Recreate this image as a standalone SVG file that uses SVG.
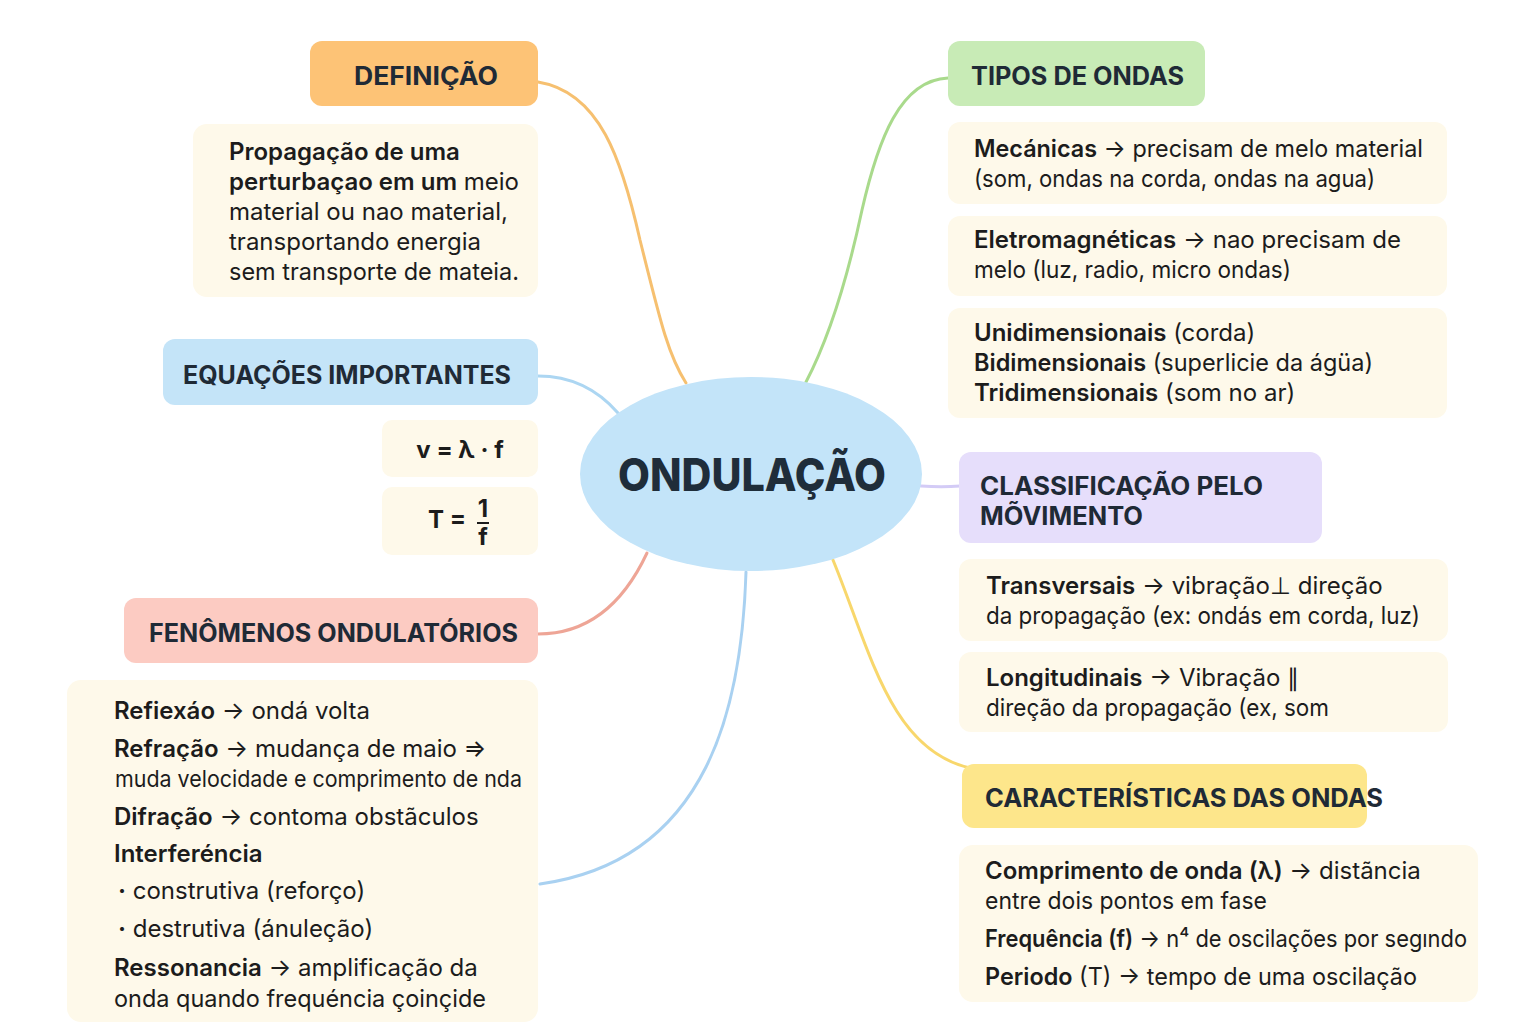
<svg xmlns="http://www.w3.org/2000/svg" width="1536" height="1024" viewBox="0 0 1536 1024">
<style>
.hd{font-family:Inter,"Liberation Sans",sans-serif;font-weight:700;font-size:25px;fill:#1f2a36}
.bd{font-family:Inter,"Liberation Sans",sans-serif;font-size:24px;fill:#1c1c1c}
.sm{font-size:23px}
.b{font-weight:600}
.card{fill:#fef9ea}
.con{fill:none;stroke-width:3;stroke-linecap:round}
</style>
<rect width="1536" height="1024" fill="#ffffff"/>
<g id="connectors">
<path class="con" stroke="#f6c070" d="M538,82 C600,92 622,160 640,240 C660,320 668,355 686,383"/>
<path class="con" stroke="#a9da8c" d="M948,78 C900,80 878,140 862,210 C846,285 828,340 806,382"/>
<path class="con" stroke="#acd6f2" d="M538,376 C572,376 598,390 618,413"/>
<path class="con" stroke="#d3cbf6" d="M921,486 C935,487 948,487 960,486"/>
<path class="con" stroke="#eea596" d="M647,553 C625,600 592,634 538,634"/>
<path class="con" stroke="#a9d1f1" d="M746,572 C742,700 712,860 540,884"/>
<path class="con" stroke="#f8d76c" d="M833,560 C870,650 890,750 970,768"/>
</g>
<g id="center">
<ellipse cx="751" cy="474" rx="171" ry="97" fill="#c3e4f9"/>
<text x="752" y="491" text-anchor="middle" font-family="Inter,'Liberation Sans',sans-serif" font-weight="800" font-size="45" fill="#1f2d3a" textLength="268" lengthAdjust="spacingAndGlyphs">ONDULAÇÃO</text>
</g>
<g id="definicao">
<rect x="310" y="41" width="228" height="65" rx="12" fill="#fdc376"/>
<text class="hd" x="354" y="85" textLength="144" lengthAdjust="spacingAndGlyphs">DEFINIÇÃO</text>
</g>
<g id="definicao-texto">
<rect class="card" x="193" y="124" width="345" height="173" rx="14"/>
<text class="bd" x="229" y="160"><tspan class="b">Propagação de uma</tspan></text>
<text class="bd" x="229" y="190"><tspan class="b">perturbaçao em um</tspan> meio</text>
<text class="bd" x="229" y="220">material ou nao material,</text>
<text class="bd" x="229" y="250">transportando energia</text>
<text class="bd" x="229" y="280" textLength="290" lengthAdjust="spacingAndGlyphs">sem transporte de mateia.</text>
</g>
<g id="equacoes">
<rect x="163" y="339" width="375" height="66" rx="12" fill="#c4e4f8"/>
<text class="hd" x="183" y="384" textLength="328" lengthAdjust="spacingAndGlyphs">EQUAÇÕES IMPORTANTES</text>
</g>
<g id="eq-v">
<rect class="card" x="382" y="420" width="156" height="57" rx="10"/>
<text class="bd" x="460" y="458" text-anchor="middle" font-weight="700">v = λ · f</text>
</g>
<g id="eq-t">
<rect class="card" x="382" y="487" width="156" height="68" rx="10"/>
<text class="bd" x="428" y="528" font-weight="700">T =</text>
<text class="bd" x="483" y="517" text-anchor="middle" font-weight="700" font-size="14">1</text>
<line x1="477" y1="523" x2="489" y2="523" stroke="#1c1c1c" stroke-width="2"/>
<text class="bd" x="483" y="545" text-anchor="middle" font-weight="700" font-size="14">f</text>
</g>
<g id="fenomenos">
<rect x="124" y="598" width="414" height="65" rx="12" fill="#fccbc2"/>
<text class="hd" x="149" y="642" textLength="369" lengthAdjust="spacingAndGlyphs">FENÔMENOS ONDULATÓRIOS</text>
</g>
<g id="fenomenos-texto">
<rect class="card" x="67" y="680" width="471" height="342" rx="14"/>
<text class="bd" x="114" y="719"><tspan class="b">Refiexáo</tspan> → ondá volta</text>
<text class="bd" x="114" y="757"><tspan class="b">Refração</tspan> → mudança de maio ⇒</text>
<text class="bd sm" x="115" y="787" textLength="407" lengthAdjust="spacingAndGlyphs">muda velocidade e comprimento de nda</text>
<text class="bd" x="114" y="825"><tspan class="b">Difração</tspan> → contoma obstãculos</text>
<text class="bd b" x="114" y="862">Interferéncia</text>
<text class="bd" x="118" y="899"><tspan font-weight="700">·</tspan> construtiva (reforço)</text>
<text class="bd" x="118" y="937"><tspan font-weight="700">·</tspan> destrutiva (ánuleção)</text>
<text class="bd" x="114" y="976"><tspan class="b">Ressonancia</tspan> → amplificação da</text>
<text class="bd" x="114" y="1007" textLength="372" lengthAdjust="spacingAndGlyphs">onda quando frequéncia çoinçide</text>
</g>
<g id="tipos">
<rect x="948" y="41" width="257" height="65" rx="12" fill="#c8ebb6"/>
<text class="hd" x="971" y="85" textLength="213" lengthAdjust="spacingAndGlyphs">TIPOS DE ONDAS</text>
</g>
<g id="mecanicas">
<rect class="card" x="948" y="122" width="499" height="82" rx="12"/>
<text class="bd" x="974" y="157" textLength="449" lengthAdjust="spacingAndGlyphs"><tspan class="b">Mecánicas</tspan> → precisam de melo material</text>
<text class="bd" x="974" y="187" textLength="401" lengthAdjust="spacingAndGlyphs">(som, ondas na corda, ondas na agua)</text>
</g>
<g id="eletromagneticas">
<rect class="card" x="948" y="216" width="499" height="80" rx="12"/>
<text class="bd" x="974" y="248"><tspan class="b">Eletromagnéticas</tspan> → nao precisam de</text>
<text class="bd" x="974" y="278" textLength="317" lengthAdjust="spacingAndGlyphs">melo (luz, radio, micro ondas)</text>
</g>
<g id="dimensoes">
<rect class="card" x="948" y="308" width="499" height="110" rx="12"/>
<text class="bd" x="974" y="341"><tspan class="b">Unidimensionais</tspan> (corda)</text>
<text class="bd" x="974" y="371" textLength="399" lengthAdjust="spacingAndGlyphs"><tspan class="b">Bidimensionais</tspan> (superlicie da ágüa)</text>
<text class="bd" x="974" y="401"><tspan class="b">Tridimensionais</tspan> (som no ar)</text>
</g>
<g id="classificacao">
<rect x="959" y="452" width="363" height="91" rx="12" fill="#e6defb"/>
<text class="hd" x="980" y="495" textLength="283" lengthAdjust="spacingAndGlyphs">CLASSIFICAÇÃO PELO</text>
<text class="hd" x="980" y="525" textLength="163" lengthAdjust="spacingAndGlyphs">MÕVIMENTO</text>
</g>
<g id="transversais">
<rect class="card" x="959" y="559" width="489" height="82" rx="12"/>
<text class="bd" x="986" y="594"><tspan class="b">Transversais</tspan> →  vibração⊥ direção</text>
<text class="bd" x="986" y="624" textLength="434" lengthAdjust="spacingAndGlyphs">da propagação (ex: ondás em corda, luz)</text>
</g>
<g id="longitudinais">
<rect class="card" x="959" y="652" width="489" height="80" rx="12"/>
<text class="bd" x="986" y="686"><tspan class="b">Longitudinais</tspan> → Vibração ∥</text>
<text class="bd" x="986" y="716" textLength="343" lengthAdjust="spacingAndGlyphs">direção da propagação (ex, som</text>
</g>
<g id="caracteristicas">
<rect x="962" y="764" width="405" height="64" rx="12" fill="#fde68b"/>
<text class="hd" x="985" y="807" textLength="398" lengthAdjust="spacingAndGlyphs">CARACTERÍSTICAS DAS ONDAS</text>
</g>
<g id="caracteristicas-texto">
<rect class="card" x="959" y="845" width="519" height="157" rx="14"/>
<text class="bd" x="985" y="879"><tspan class="b">Comprimento de onda (λ)</tspan> → distãncia</text>
<text class="bd" x="985" y="909" textLength="282" lengthAdjust="spacingAndGlyphs">entre dois pontos em fase</text>
<text class="bd" x="985" y="947" textLength="482" lengthAdjust="spacingAndGlyphs"><tspan class="b">Frequência (f)</tspan> → n⁴ de oscilações por segındo</text>
<text class="bd" x="985" y="985" textLength="432" lengthAdjust="spacingAndGlyphs"><tspan class="b">Periodo</tspan> (T) → tempo de uma oscilação</text>
</g>
</svg>
